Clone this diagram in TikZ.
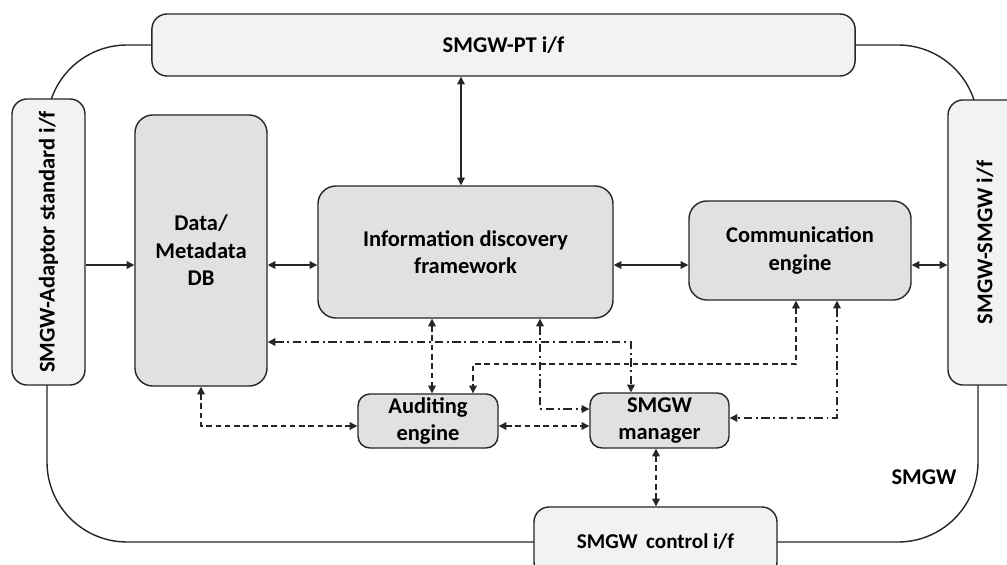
\documentclass[tikz,border=0pt]{standalone}
\usepackage{fontspec}
\setmainfont{Carlito}
\usetikzlibrary{arrows.meta,calc}
\definecolor{lnc}{HTML}{262626}
\definecolor{lightf}{HTML}{F2F2F2}
\definecolor{midf}{HTML}{E1E1E1}
\tikzset{
  box/.style={draw=lnc, line width=1pt, align=center, font=\fontsize{16}{19.5}\selectfont\bfseries, inner sep=0pt},
  ifbox/.style={box, fill=lightf, rounded corners=0.38cm},
  blk/.style={box, fill=midf, rounded corners=0.45cm},
  smallblk/.style={box, fill=midf, rounded corners=0.3cm},
  conn/.style={draw=lnc, line width=0.9pt, {Triangle[length=5.5pt,width=5.5pt]}-{Triangle[length=5.5pt,width=5.5pt]}},
  oneway/.style={draw=lnc, line width=0.9pt, -{Triangle[length=5.5pt,width=5.5pt]}},
  dashconn/.style={conn, dash pattern=on 4pt off 2.6pt},
  dotconn/.style={conn, dash pattern=on 6pt off 2.6pt on 1.4pt off 2.6pt},
}
\begin{document}
\begin{tikzpicture}[x=0.025cm,y=-0.025cm]
\clip (0,0) rectangle (1007,565);
\fill[white] (0,0) rectangle (1007,565);
% outer frame
\draw[draw=lnc, line width=1pt, rounded corners=2cm] (47,45) rectangle (978,542);
% interface boxes
\node[ifbox, minimum width=17.575cm, minimum height=1.55cm] (pt) at (503.5,45) {SMGW-PT i/f};
\node[ifbox, rotate=90, minimum width=7.15cm, minimum height=1.825cm] (adp) at (48.5,242) {SMGW-Adaptor standard i/f};
\node[ifbox, rotate=90, minimum width=7.125cm, minimum height=1.85cm] (sif) at (985,242.5) {SMGW-SMGW i/f};
\node[ifbox, minimum width=6.075cm, minimum height=1.75cm, font=\fontsize{15}{19.5}\selectfont\bfseries] (ctl) at (655.5,542) {SMGW\hspace{0.4em}control i/f};
% blocks
\node[blk, minimum width=3.3cm, minimum height=6.775cm] (db) at (201,250.5) {Data/\\Metadata\\DB};
\node[blk, minimum width=7.375cm, minimum height=3.3cm] (idf) at (465.5,252) {Information discovery\\framework};
\node[blk, minimum width=5.55cm, minimum height=2.475cm, font=\fontsize{16}{20.5}\selectfont\bfseries] (comm) at (800,250.5) {Communication\\engine};
\node[smallblk, minimum width=3.5cm, minimum height=1.35cm] (aud) at (428,421) {Auditing\\engine};
\node[smallblk, minimum width=3.475cm, minimum height=1.375cm] (mgr) at (659.5,420.5) {SMGW\\manager};
\node[font=\fontsize{16}{19.5}\selectfont\bfseries] (lbl) at (924,477) {SMGW};
% helper coordinates
\coordinate (r265) at (0,265);
\coordinate (r426) at (0,426);
\coordinate (r364) at (0,364);
\coordinate (r342) at (0,342);
\coordinate (r409) at (0,409);
\coordinate (r418) at (0,418);
\coordinate (c461) at (461,0);
\coordinate (c432) at (432,0);
\coordinate (c473) at (473,0);
\coordinate (c796) at (796,0);
\coordinate (c631) at (631,0);
\coordinate (c540) at (540,0);
\coordinate (c837) at (837,0);
\coordinate (c656) at (656,0);
% solid connectors
\draw[conn] (pt.south -| c461) -- (idf.north -| c461);
\draw[oneway] (adp.south |- r265) -- (db.west |- r265);
\draw[conn] (db.east |- r265) -- (idf.west |- r265);
\draw[conn] (idf.east |- r265) -- (comm.west |- r265);
\draw[conn] (comm.east |- r265) -- (sif.north |- r265);
% dashed connectors
\draw[dashconn] (db.south) |- (aud.west |- r426);
\draw[dashconn] (aud.east |- r426) -- (mgr.west |- r426);
\draw[dashconn] (idf.south -| c432) -- (aud.north -| c432);
\draw[dashconn] (comm.south -| c796) -- (c796 |- r364) -- (c473 |- r364) -- (aud.north -| c473);
\draw[dashconn] (mgr.south -| c656) -- (ctl.north -| c656);
% dash-dot connectors
\draw[dotconn] (db.east |- r342) -- (c631 |- r342) -- (mgr.north -| c631);
\draw[dotconn] (idf.south -| c540) |- (mgr.west |- r409);
\draw[dotconn] (comm.south -| c837) |- (mgr.east |- r418);
\end{tikzpicture}
\end{document}
